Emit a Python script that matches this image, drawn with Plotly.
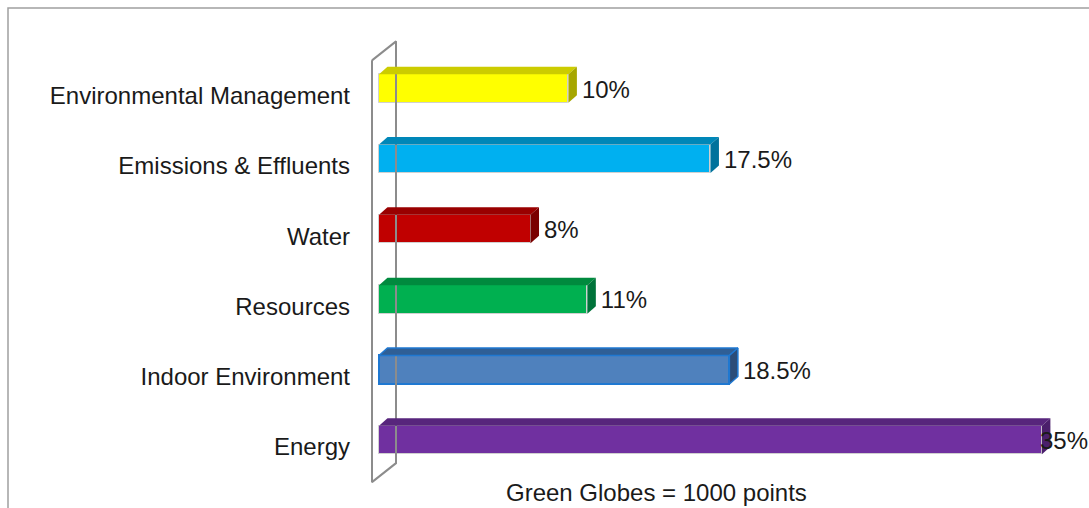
import plotly.graph_objects as go

# Green Globes assessment categories, top to bottom as displayed
categories = ["Environmental Management", "Emissions & Effluents", "Water",
              "Resources", "Indoor Environment", "Energy"]
shares = [10, 17.5, 8, 11, 18.5, 35]
value_labels = ["10%", "17.5%", "8%", "11%", "18.5%", "35%"]
chart_title = "Green Globes = 1000 points"

# face colours: front, top, side
front_colors = ["#FFFF00", "#00B0F0", "#C00000", "#00B050", "#4F81BD", "#7030A0"]
top_colors = ["#CCCC00", "#0087B8", "#990000", "#008A3E", "#2F5F96", "#57257C"]
side_colors = ["#A6A600", "#00729C", "#7A0000", "#00733A", "#2C4D78", "#4A1F6B"]
edge_colors = ["#D0D0D0", "#D0D0D0", "#D0D0D0", "#D0D0D0", "#1F78D1", "#D0D0D0"]
edge_widths = [1, 1, 1, 1, 2, 1]

# ---- geometry of the drawing area (pixels) ----
W, H = 1089, 508
L, R, T, B = 360, 1089, 10, 486          # plot area
X0_PX = 379                               # pixel of value 0
PX_PER_PCT = 18.94
ROW_PX = 70.3                             # distance between categories
ROW0_PX = 447                             # pixel of the bottom category centre

x_lo = (L - X0_PX) / PX_PER_PCT
x_hi = (R - X0_PX) / PX_PER_PCT
y_lo = (ROW0_PX - B) / ROW_PX
y_hi = (ROW0_PX - T) / ROW_PX

# 3-D depth of the bars, in data units
depth_x = 8.5 / PX_PER_PCT
depth_y = 7.5 / ROW_PX
bar_w = 28.5 / ROW_PX
face_shift = 7 / ROW_PX                   # front face sits slightly above the category centre

n = len(categories)
pos = [n - 1 - i for i in range(n)]       # first category at the top

fig = go.Figure()

# back wall of the chart
wall_dx_front = -7 / PX_PER_PCT
wall_dx_back = 17 / PX_PER_PCT
wall_dy = 19 / ROW_PX
wb, wt = -0.5, n - 0.5
fig.add_trace(go.Scatter(
    x=[wall_dx_front, wall_dx_back, wall_dx_back, wall_dx_front, wall_dx_front],
    y=[wt, wt + wall_dy, wb + wall_dy, wb, wt],
    mode="lines", line=dict(color="#8C8C8C", width=2),
    hoverinfo="skip", showlegend=False))

# front faces
fig.add_trace(go.Bar(
    x=shares, y=pos, orientation="h",
    width=bar_w, offset=face_shift - bar_w / 2, base=0,
    marker=dict(color=front_colors,
                line=dict(color=edge_colors, width=edge_widths)),
    hoverinfo="x+y", showlegend=False))

# top and side faces
for i in range(n):
    v = shares[i]
    y_bot = pos[i] + face_shift - bar_w / 2
    y_top = y_bot + bar_w
    outline = dict(color=edge_colors[i], width=1.5) if edge_widths[i] > 1 else dict(width=0)
    fig.add_trace(go.Scatter(
        x=[0, v, v + depth_x, depth_x, 0],
        y=[y_top, y_top, y_top + depth_y, y_top + depth_y, y_top],
        mode="lines", fill="toself", fillcolor=top_colors[i],
        line=outline, hoverinfo="skip", showlegend=False))
    fig.add_trace(go.Scatter(
        x=[v, v + depth_x, v + depth_x, v, v],
        y=[y_top, y_top + depth_y, y_bot + depth_y, y_bot, y_top],
        mode="lines", fill="toself", fillcolor=side_colors[i],
        line=outline, hoverinfo="skip", showlegend=False))

# value labels, pulled back inside the chart where they would overflow
FONT = "Liberation Sans, Arial, sans-serif"
FS = 24
pad = 5 / PX_PER_PCT
for i in range(n):
    v = shares[i]
    est_w = len(value_labels[i]) * 0.52 * FS / PX_PER_PCT
    lx = v + depth_x + pad
    tp = "middle right"
    if lx + est_w > x_hi:
        lx, tp = x_hi - 0.05, "middle left"
    fig.add_trace(go.Scatter(
        x=[lx], y=[pos[i] + face_shift - 3 / ROW_PX], mode="text",
        text=[value_labels[i]], textposition=tp,
        textfont=dict(family=FONT, size=FS, color="#1A1A1A"),
        cliponaxis=False, hoverinfo="skip", showlegend=False))

pw, ph = R - L, B - T
fig.add_shape(type="rect", xref="paper", yref="paper",
              x0=(8 - L) / pw, x1=(W + 10 - L) / pw,
              y0=(B - (H + 10)) / ph, y1=(B - 8) / ph,
              line=dict(color="#A0A0A0", width=1.5), layer="below")

fig.add_annotation(text=chart_title, xref="paper", yref="paper",
                   x=(656 - L) / pw, y=(B - 492) / ph,
                   xanchor="center", yanchor="middle", showarrow=False,
                   font=dict(family=FONT, size=FS, color="#1A1A1A"))

fig.update_layout(
    width=W, height=H,
    margin=dict(l=L, r=W - R, t=T, b=H - B, pad=0),
    paper_bgcolor="white", plot_bgcolor="white",
    font=dict(family=FONT, size=FS, color="#1A1A1A"),
    xaxis=dict(range=[x_lo, x_hi], visible=False, fixedrange=True),
    yaxis=dict(range=[y_lo, y_hi], tickvals=pos, ticktext=categories,
               showgrid=False, zeroline=False, showline=False, ticks="",
               ticklabelstandoff=9, fixedrange=True,
               tickfont=dict(family=FONT, size=FS, color="#1A1A1A")),
    bargap=0,
)

fig.write_html("out.html")
